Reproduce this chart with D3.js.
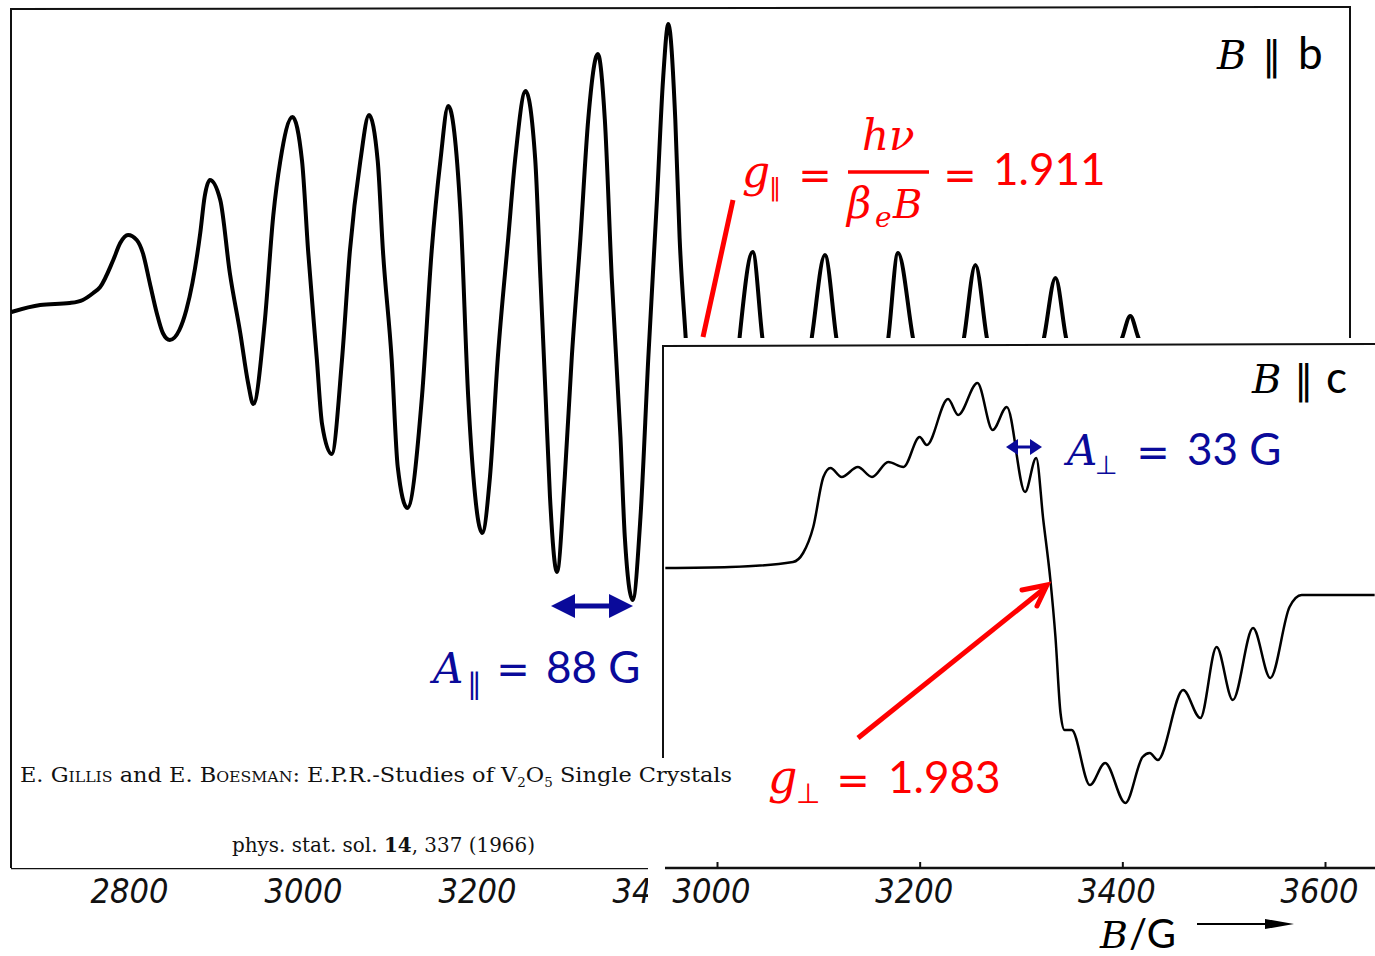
<!DOCTYPE html>
<html>
<head>
<meta charset="utf-8">
<script src="https://cdn.jsdelivr.net/npm/d3@7"></script>
<style>
    body { margin: 0; background: #fff; }
    svg { display: block; }
</style>
</head>
<body>
<svg id="chart" width="1375" height="956"></svg>
<script>
// B || b spectrum: field in G, signal in arbitrary units
const mainField = [
    2658, 2691, 2725, 2740, 2752, 2760, 2775, 2783, 2792, 2802, 2809, 2817, 2825, 2832, 2840,
    2851, 2859, 2866, 2875, 2880, 2886, 2898, 2909, 2921, 2930, 2936, 2949, 2959, 2967, 2981,
    2992, 2999, 3009, 3015, 3026, 3038, 3047, 3059, 3069, 3079, 3085, 3095, 3102, 3113, 3130,
    3141, 3151, 3160, 3174, 3183, 3189, 3199, 3208, 3217, 3229, 3237, 3249, 3260, 3266, 3272,
    3277, 3285, 3294, 3302, 3312, 3321, 3332, 3340, 3348, 3358, 3363, 3372, 3381, 3390, 3400,
    3407, 3413, 3421, 3426, 3433, 3444, 3463, 3482, 3495, 3510, 3521, 3549, 3578, 3593, 3606,
    3636, 3666, 3677, 3694, 3723, 3753, 3766, 3779, 3812, 3845, 3858, 3870, 3902, 3935, 3944,
    3953, 3978, 4024, 4185,
]
const mainSignal = [
    8, 15, 17, 20, 27, 33, 60, 77, 85, 80, 67, 37, 7, -13, -20,
    -10, 10, 37, 87, 123, 140, 120, 47, -13, -63, -84, -3, 105, 159, 203,
    159, 69, -39, -104, -134, -39, 69, 159, 205, 159, 69, -39, -147, -188, -75,
    69, 159, 214, 109, -77, -157, -213, -157, -38, 82, 161, 229, 161, 42, -77,
    -177, -252, -157, -38, 82, 201, 266, 201, 42, -117, -217, -280, -197, -38, 121,
    241, 296, 201, 82, -18, -160, -240, -160, -17, 68, -17, -200, -17, 65, -17,
    -180, -17, 67, -17, -160, -17, 55, -17, -140, -17, 42, -17, -100, -17, 4,
    -17, -60, -30, -25,
]

// B || c spectrum
const insetField = [
    2949, 3013, 3075, 3085, 3095, 3105, 3112, 3123, 3139, 3153, 3169, 3184, 3200, 3207, 3228,
    3238, 3257, 3272, 3286, 3304, 3315, 3322, 3329, 3334, 3339, 3343, 3350, 3368, 3383, 3403,
    3420, 3427, 3435, 3460, 3477, 3493, 3509, 3529, 3546, 3565, 3577, 3649,
]
const insetSignal = [
    0, 1, 6, 15, 41, 91, 100, 91, 101, 91, 106, 101, 131, 123, 169,
    153, 185, 138, 161, 76, 110, 48, -12, -69, -145, -162, -162, -217, -195, -235,
    -189, -185, -192, -122, -150, -79, -132, -60, -110, -39, -27, -27,
]

const mainTicks = [2800, 3000, 3200, 3400]
const insetTicks = [3000, 3200, 3400, 3600]

const RED = '#ff0000'
const BLUE = '#0a0a9a'
const INK = '#111'
const mathFont = '"DejaVu Serif", serif'
const textFont = 'Lato, "Noto Sans", sans-serif'
const symFont = '"DejaVu Sans", sans-serif'
const tickFont = '"Liberation Sans Narrow", "DejaVu Sans Condensed", sans-serif'
const capFont = '"DejaVu Serif", "Liberation Serif", serif'

const svg = d3.select('#chart')

const xMain = d3.scaleLinear().domain([2800, 3200]).range([135, 483])
const yMain = d3.scaleLinear().domain([-300, 320]).range([620, 0])
const xInset = d3.scaleLinear().domain([3000, 3600]).range([717, 1325])
const yInset = d3.scaleLinear().domain([-300, 300]).range([868, 268])

const AXIS_Y = 868

// main panel frame
svg.append('path')
    .attr('d', 'M11,868 L11,9 L1350,7 L1350,338')
    .attr('fill', 'none').attr('stroke', INK).attr('stroke-width', 2)

const mainLine = d3.line()
    .x((d, i) => xMain(mainField[i]))
    .y(d => yMain(d))
    .curve(d3.curveMonotoneX)

svg.append('path')
    .datum(mainSignal)
    .attr('d', mainLine)
    .attr('fill', 'none').attr('stroke', '#000').attr('stroke-width', 4)
    .attr('stroke-linejoin', 'round')

// main axis, cut off where the inset starts
svg.append('clipPath').attr('id', 'mainClip')
    .append('rect').attr('x', 0).attr('y', 0).attr('width', 648).attr('height', 956)

const mainAxisG = svg.append('g')
    .attr('clip-path', 'url(#mainClip)')
    .attr('transform', `translate(0,${AXIS_Y})`)
mainAxisG.append('line')
    .attr('x1', 11).attr('x2', 648)
    .attr('stroke', INK).attr('stroke-width', 2.5)
mainAxisG.call(d3.axisBottom(xMain).tickValues(mainTicks).tickFormat(d3.format('d'))
    .tickSize(-6).tickSizeOuter(0))

function styleAxis(g) {
    g.select('.domain').remove()
    g.selectAll('.tick line').attr('stroke', INK).attr('stroke-width', 2)
    g.selectAll('.tick text')
        .attr('y', 35).attr('dy', null).attr('x', -6)
        .attr('fill', INK)
        .style('font-family', tickFont)
        .style('font-style', 'italic')
        .style('font-size', '34px')
}
styleAxis(mainAxisG)

// inset covers the lower right of the main panel
svg.append('rect')
    .attr('x', 663).attr('y', 338).attr('width', 712).attr('height', 540)
    .attr('fill', '#fff')
svg.append('path')
    .attr('d', 'M663,758 L663,346 L1375,344')
    .attr('fill', 'none').attr('stroke', INK).attr('stroke-width', 2)

const insetLine = d3.line()
    .x((d, i) => xInset(insetField[i]))
    .y(d => yInset(d))
    .curve(d3.curveMonotoneX)

svg.append('path')
    .datum(insetSignal)
    .attr('d', insetLine)
    .attr('fill', 'none').attr('stroke', '#000').attr('stroke-width', 2.5)
    .attr('stroke-linejoin', 'round')

const insetAxisG = svg.append('g').attr('transform', `translate(0,${AXIS_Y})`)
insetAxisG.append('line')
    .attr('x1', 665).attr('x2', 1375)
    .attr('stroke', INK).attr('stroke-width', 2.5)
insetAxisG.call(d3.axisBottom(xInset).tickValues(insetTicks).tickFormat(d3.format('d'))
    .tickSize(-6).tickSizeOuter(0))
styleAxis(insetAxisG)

// text helper
function txt(x, y, s, font, size, color, opts = {}) {
    const t = svg.append('text')
        .attr('x', x).attr('y', y)
        .attr('fill', color)
        .style('font-family', font)
        .style('font-size', size + 'px')
        .text(s)
    if (opts.italic) t.style('font-style', 'italic')
    if (opts.anchor) t.attr('text-anchor', opts.anchor)
    return t
}

// caption from the original paper
const cap = svg.append('text')
    .attr('x', 20).attr('y', 782)
    .attr('fill', INK)
    .attr('textLength', 712).attr('lengthAdjust', 'spacingAndGlyphs')
    .style('font-family', capFont).style('font-size', '20px')
cap.append('tspan').text('E. ')
cap.append('tspan').attr('font-variant', 'small-caps').text('Gillis')
cap.append('tspan').text(' and E. ')
cap.append('tspan').attr('font-variant', 'small-caps').text('Boesman')
cap.append('tspan').text(':  E.P.R.-Studies of V')
cap.append('tspan').attr('dy', 5).style('font-size', '12px').text('2')
cap.append('tspan').attr('dy', -5).text('O')
cap.append('tspan').attr('dy', 5).style('font-size', '12px').text('5')
cap.append('tspan').attr('dy', -5).text(' Single Crystals')

const ref = svg.append('text')
    .attr('x', 232).attr('y', 852)
    .attr('fill', INK)
    .attr('textLength', 303).attr('lengthAdjust', 'spacingAndGlyphs')
    .style('font-family', capFont).style('font-size', '20px')
ref.append('tspan').text('phys. stat. sol. ')
ref.append('tspan').style('font-weight', 'bold').text('14')
ref.append('tspan').text(', 337 (1966)')

// orientation labels
txt(1217, 69, 'B', mathFont, 40, '#000', { italic: true })
txt(1262, 70, '∥', symFont, 40, '#000')
txt(1298, 69, 'b', textFont, 44, '#000')
txt(1252, 393, 'B', mathFont, 40, '#000', { italic: true })
txt(1294, 394, '∥', symFont, 40, '#000')
txt(1326, 393, 'c', textFont, 44, '#000')

// g parallel formula
txt(742, 187, 'g', mathFont, 44, RED, { italic: true })
txt(769, 196, '∥', symFont, 25, RED)
txt(815, 189, '=', symFont, 40, RED, { anchor: 'middle' })
txt(862, 150, 'hν', mathFont, 42, RED, { italic: true })
svg.append('line')
    .attr('x1', 848).attr('x2', 929).attr('y1', 172).attr('y2', 172)
    .attr('stroke', RED).attr('stroke-width', 3.5)
txt(847, 218, 'β', mathFont, 42, RED, { italic: true })
txt(875, 227, 'e', mathFont, 28, RED, { italic: true })
txt(893, 218, 'B', mathFont, 40, RED, { italic: true })
txt(960, 189, '=', symFont, 40, RED, { anchor: 'middle' })
txt(993, 185, '1.911', textFont, 44, RED)
svg.append('line')
    .attr('x1', 703).attr('y1', 337).attr('x2', 733).attr('y2', 200)
    .attr('stroke', RED).attr('stroke-width', 5)

// A parallel
const bigArrow = svg.append('g').attr('fill', BLUE)
bigArrow.append('line')
    .attr('x1', 570).attr('x2', 615).attr('y1', 606).attr('y2', 606)
    .attr('stroke', BLUE).attr('stroke-width', 5)
bigArrow.append('path').attr('d', 'M551,606 L575,594 L575,618 Z')
bigArrow.append('path').attr('d', 'M633,606 L609,594 L609,618 Z')
txt(433, 683, 'A', mathFont, 42, BLUE, { italic: true })
txt(467, 694, '∥', symFont, 29, BLUE)
txt(513, 683, '=', symFont, 40, BLUE, { anchor: 'middle' })
txt(546, 683, '88 G', textFont, 44, BLUE)

// A perpendicular
const smallArrow = svg.append('g').attr('fill', BLUE)
smallArrow.append('line')
    .attr('x1', 1014).attr('x2', 1034).attr('y1', 447).attr('y2', 447)
    .attr('stroke', BLUE).attr('stroke-width', 3)
smallArrow.append('path').attr('d', 'M1006,447 L1018,439 L1018,455 Z')
smallArrow.append('path').attr('d', 'M1042,447 L1030,439 L1030,455 Z')
txt(1067, 465, 'A', mathFont, 42, BLUE, { italic: true })
txt(1095, 474, '⊥', symFont, 26, BLUE)
txt(1153, 466, '=', symFont, 40, BLUE, { anchor: 'middle' })
txt(1187, 465, '33 G', textFont, 44, BLUE)

// g perpendicular
svg.append('line')
    .attr('x1', 858).attr('y1', 738).attr('x2', 1045).attr('y2', 588)
    .attr('stroke', RED).attr('stroke-width', 5)
svg.append('path')
    .attr('d', 'M1022,590 L1047,585 L1037,606')
    .attr('fill', 'none').attr('stroke', RED).attr('stroke-width', 5)
    .attr('stroke-linecap', 'round')
txt(768, 793, 'g', mathFont, 46, RED, { italic: true })
txt(796, 803, '⊥', symFont, 28, RED)
txt(853, 794, '=', symFont, 40, RED, { anchor: 'middle' })
txt(888, 793, '1.983', textFont, 44, RED)

// field label
txt(1100, 948, 'B', mathFont, 38, '#000', { italic: true })
txt(1129, 948, '/G', textFont, 40, '#000')
svg.append('line')
    .attr('x1', 1197).attr('x2', 1270).attr('y1', 924).attr('y2', 924)
    .attr('stroke', '#000').attr('stroke-width', 2)
svg.append('path').attr('d', 'M1294,924 L1265,919 L1265,929 Z').attr('fill', '#000')
</script>
</body>
</html>
